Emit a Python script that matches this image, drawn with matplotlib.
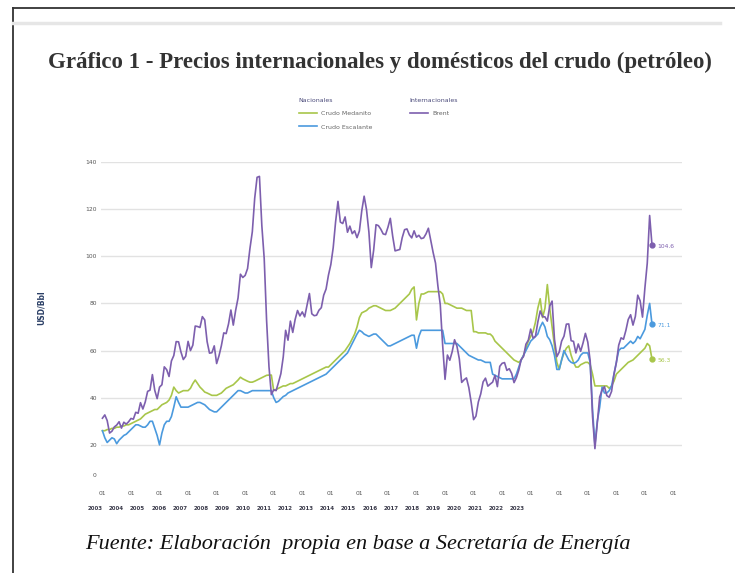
import matplotlib.pyplot as plt
import numpy as np
import matplotlib.transforms as mtransforms
from matplotlib.lines import Line2D

# monthly series, Jan 2003 .. Apr 2022 (USD/Bbl)
brent = [
    31.3, 32.7, 30.3, 25.0, 25.8, 27.6, 28.4, 29.8, 27.1, 29.6, 28.8, 29.8,
    31.2, 30.9, 33.8, 33.4, 37.9, 35.2, 38.2, 42.7, 43.2, 49.8, 43.1, 39.6,
    44.5, 45.5, 53.1, 51.9, 49.0, 55.6, 57.9, 63.8, 63.7, 59.4, 56.2, 57.6,
    63.9, 60.0, 62.3, 70.4, 70.2, 69.8, 74.4, 73.0, 63.8, 58.9, 59.1, 62.0,
    54.5, 57.8, 62.1, 67.5, 67.2, 71.3, 77.2, 70.8, 77.1, 82.3, 92.4, 91.0,
    91.9, 94.8, 103.3, 110.4, 124.6, 133.5, 133.9, 113.0, 99.0, 72.8, 53.2, 41.3,
    43.4, 43.0, 46.5, 50.2, 57.3, 68.6, 64.4, 72.5, 67.7, 73.2, 77.0, 74.7,
    76.4, 74.3, 79.3, 84.2, 75.6, 74.8, 75.0, 77.1, 78.2, 83.5, 86.1, 92.0,
    96.5, 103.7, 114.6, 123.3, 114.5, 113.9, 116.7, 110.2, 112.8, 109.6, 110.8, 107.9,
    110.7, 119.3, 125.5, 119.8, 110.3, 95.2, 102.6, 113.4, 113.0, 111.5, 109.5, 109.2,
    112.3, 116.1, 108.5, 102.3, 102.6, 102.9, 107.9, 111.3, 111.6, 109.1, 107.8, 110.8,
    108.1, 108.9, 107.5, 107.8, 109.5, 111.9, 106.8, 101.6, 97.1, 87.4, 79.4, 62.3,
    47.8, 58.1, 55.9, 59.5, 64.6, 61.9, 56.5, 46.5, 47.6, 48.4, 44.3, 38.0,
    30.7, 32.2, 38.2, 41.6, 46.7, 48.3, 44.9, 45.8, 46.6, 49.5, 44.7, 53.3,
    54.6, 54.9, 51.6, 52.3, 50.3, 46.4, 48.5, 51.7, 56.2, 57.5, 62.7, 64.4,
    69.1, 65.3, 66.0, 72.1, 76.8, 74.4, 74.3, 72.5, 78.9, 81.0, 64.8, 57.4,
    59.4, 64.0, 66.1, 71.2, 71.3, 64.2, 63.9, 59.0, 62.8, 59.7, 63.2, 67.3,
    63.6, 55.7, 32.0, 18.4, 29.4, 40.3, 43.2, 44.7, 40.9, 40.2, 42.7, 49.9,
    54.8, 62.3, 65.4, 64.8, 68.5, 73.2, 75.2, 70.8, 74.5, 83.5, 81.1, 74.2,
    86.5, 97.1, 117.3, 104.6,
]

medanito = [
    26, 26, 26.5, 26.5, 27, 27, 27.5, 27.5, 28, 28, 28.5, 28.5,
    29, 29.5, 30, 30.5, 31, 32, 33, 33.5, 34, 34.5, 35, 35,
    36, 37, 37.5, 38, 39, 41, 44.5, 43, 42, 42.5, 43, 43,
    43, 44, 46, 47.5, 46, 44.5, 43.5, 42.4, 42, 41.5, 41, 41,
    41, 41.5, 42, 43, 44, 44.5, 45, 45.5, 46.5, 47.5, 48.7, 48,
    47.5, 47, 46.6, 46.6, 47, 47.5, 48, 48.5, 49, 49.5, 49.6, 49.6,
    43, 43.5, 44, 44.5, 45, 45, 45.5, 46, 46, 46.5, 47, 47.5,
    48, 48.5, 49, 49.5, 50, 50.5, 51, 51.5, 52, 52.5, 53, 53,
    54, 55, 56, 57, 58, 59, 60, 61.5, 63, 65, 67, 70,
    74, 76, 76.5, 77, 78, 78.5, 79, 79, 78.5, 78, 77.5, 77,
    77, 77, 77.5, 78, 79, 80, 81, 82, 83, 84, 86, 87,
    73, 80, 84, 84, 84.5, 85, 85, 85, 85, 85, 85, 84,
    80, 80, 79.5, 79, 78.5, 78, 78, 78, 77.5, 77, 77, 77,
    68, 68, 67.5, 67.5, 67.5, 67.5, 67, 67, 66, 64, 63, 62,
    61, 60, 59, 58, 57, 56, 55.5, 55, 56, 58, 61, 64,
    66, 68, 72, 78, 82, 74, 78, 88, 78, 70, 62, 55,
    52, 56, 59, 61, 62, 58, 55, 53, 53, 54, 54.5, 55,
    55, 54, 50, 45, 45, 45, 45, 45, 45, 44, 45, 47,
    50, 51, 52, 53, 54, 55, 55.5, 56, 57, 58, 59, 60,
    61, 63, 62, 56.3,
]

escalante = [
    26, 23, 21, 22, 23, 22.5, 20.5, 22, 23, 24, 24.5, 25.5,
    26.5, 27.5, 28.5, 28.5, 28, 27.5, 27.5, 28.5, 30, 30, 27, 24,
    20, 25, 28.5, 30, 30, 32, 36, 40.4, 38, 36, 36, 36,
    36, 36.5, 37, 37.5, 38, 38, 37.5, 37, 36, 35, 34.5, 34,
    34, 35, 36, 37, 38, 39, 40, 41, 42, 43, 43, 42.5,
    42, 42, 42.5, 43, 43, 43, 43, 43, 43, 43, 43, 43,
    40, 38, 38.5, 39.5, 40.5, 41, 42, 42.5, 43, 43.5, 44, 44.5,
    45, 45.5, 46, 46.5, 47, 47.5, 48, 48.5, 49, 49.5, 50, 51,
    52, 53, 54, 55, 56, 57, 58, 59, 61, 63, 65, 67,
    68.6, 68, 67, 66.5, 66, 66.5, 67, 67, 66, 65, 64, 63,
    62, 62, 62.5, 63, 63.5, 64, 64.5, 65, 65.5, 66, 66.5, 66.5,
    61, 66, 68.6, 68.6, 68.6, 68.6, 68.6, 68.6, 68.6, 68.6, 68.6, 68.6,
    63, 63, 63, 63, 63, 63, 62, 61, 60, 59, 58, 57.5,
    57, 56.5, 56, 56, 55.5, 55, 55, 55, 50, 49.5, 49, 48.5,
    48, 48, 48, 48, 48, 48, 50, 53, 56, 58, 60, 62,
    64, 65, 66, 67, 70, 72, 70, 66, 64.6, 62, 58, 52,
    52, 56, 60, 58, 56, 55, 54.6, 55, 56, 58, 59, 59,
    59, 55, 35, 20, 30, 36, 44.5, 42, 42, 43, 45, 50,
    55, 60, 61, 61, 62, 63, 64, 63, 64, 66, 65, 67,
    69, 75, 80, 71.1,
]

years = list(range(2003, 2024))
tick_labels = ["01"] * len(years)
end_labels = ["104.6", "71.1", "56.3"]

x = 2003 + np.arange(len(brent)) / 12

c_brent = "#7d5fae"
c_med = "#a8c64a"
c_esc = "#4b9ade"

fig = plt.figure(figsize=(7.35, 5.73), dpi=100)
ax = fig.add_axes([101 / 735, 81 / 573, 581 / 735, 330 / 573])

ax.plot(x, medanito, color=c_med, lw=1.2)
ax.plot(x, escalante, color=c_esc, lw=1.2)
ax.plot(x, brent, color=c_brent, lw=1.2)

# end points with value labels
for ser, col, lab in [(brent, c_brent, end_labels[0]), (escalante, c_esc, end_labels[1]),
                      (medanito, c_med, end_labels[2])]:
    ax.plot(x[-1], ser[-1], "o", color=col, ms=3.5)
    ax.annotate(lab, (x[-1], ser[-1]), xytext=(4, -1), textcoords="offset points",
                fontsize=4.3, color=col, va="center")

ax.set_xlim(2002.95, 2023.3)
ax.set_ylim(0, 140)
ax.set_yticks(np.arange(0, 141, 20))
ax.set_xticks(years, tick_labels)
ax.grid(axis="y", color="#e2e2e2", lw=1)
ax.yaxis.get_major_ticks()[0].gridline.set_visible(False)
for s in ax.spines.values():
    s.set_visible(False)
ax.tick_params(axis="both", length=0, labelsize=4.3, labelcolor="#555555")
ax.tick_params(axis="x", pad=-1)
ax.tick_params(axis="y", pad=3)

# the 0 label sits higher than its gridline in the original
lbl0 = ax.yaxis.get_major_ticks()[0].label1
lbl0.set_transform(lbl0.get_transform() + mtransforms.ScaledTranslation(0, 0.17, fig.dpi_scale_trans))

ax.set_ylabel("USD/Bbl", fontsize=5.5, color="#2b3f66", fontweight="bold")
ax.yaxis.set_label_coords(-0.095, 0.56)

# second row of year labels, squeezed to the left as in the source
year_step = 21.1 / 28.55
trans = mtransforms.blended_transform_factory(ax.transData, ax.transAxes)
for i, yr in enumerate(years):
    ax.text(2003 - 7 / 28.55 + i * year_step, -0.05, str(yr), transform=trans,
            ha="center", va="center", fontsize=4, fontweight="bold", color="#3a3a4a",
            clip_on=False)

# legend: two blocks with headers
h_med = Line2D([], [], color=c_med, lw=1.2)
h_esc = Line2D([], [], color=c_esc, lw=1.2)
h_brent = Line2D([], [], color=c_brent, lw=1.2)
leg1 = fig.legend([h_med, h_esc], ["Crudo Medanito", "Crudo Escalante"], title="Nacionales",
                  loc="upper left", bbox_to_anchor=(293 / 735, 1 - 92 / 573), frameon=False,
                  fontsize=4.5, title_fontsize=4.5, handlelength=3, handletextpad=0.6,
                  labelspacing=1.3, alignment="left", labelcolor="#666666")
leg1.get_title().set_color("#4a4a7a")
leg2 = fig.legend([h_brent], ["Brent"], title="Internacionales",
                  loc="upper left", bbox_to_anchor=(404 / 735, 1 - 92 / 573), frameon=False,
                  fontsize=4.5, title_fontsize=4.5, handlelength=3, handletextpad=0.6,
                  labelspacing=1.3, alignment="left", labelcolor="#666666")
leg2.get_title().set_color("#4a4a7a")

fig.text(380 / 735, 1 - 62 / 573, "Gráfico 1 - Precios internacionales y domésticos del crudo (petróleo)",
         ha="center", va="center", fontsize=16.5, fontweight="bold", family="Liberation Serif",
         color="#333333")
fig.text(85 / 735, 1 - 545 / 573, "Fuente: Elaboración  propia en base a Secretaría de Energía",
         ha="left", va="center", fontsize=16, style="italic", family="Liberation Serif",
         color="#111111")

# page frame and faint header band
fig.add_artist(Line2D([13 / 735, 13 / 735], [0, 1 - 8 / 573], color="#333333", lw=1.3))
fig.add_artist(Line2D([13 / 735, 1], [1 - 8 / 573, 1 - 8 / 573], color="#333333", lw=1.3))
fig.add_artist(Line2D([13 / 735, 720 / 735], [1 - 23 / 573, 1 - 23 / 573], color="#e6e6e6", lw=2.5))

fig.savefig("out.png", dpi=100)
